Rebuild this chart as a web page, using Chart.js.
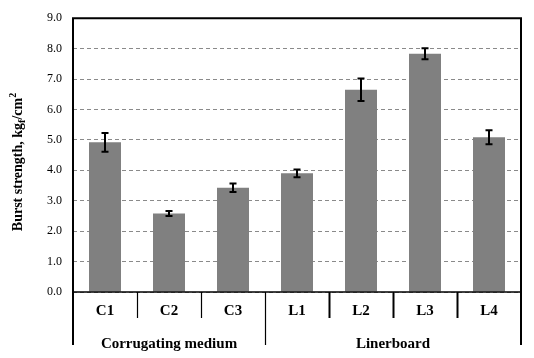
<!DOCTYPE html>
<html>
<head>
<meta charset="utf-8">
<script src="https://cdn.jsdelivr.net/npm/chart.js@4/dist/chart.umd.min.js"></script>
<style>
html,body{margin:0;padding:0;background:#fff;}
#wrap{width:534px;height:358px;position:relative;}
</style>
</head>
<body>
<div id="wrap"><canvas id="c" width="534" height="358"></canvas></div>
<script>
// ---- data ----
const categories = ['C1','C2','C3','L1','L2','L3','L4'];
const groupNames = ['Corrugating medium','Linerboard'];
const groupSizes = [3, 4];
const burstStrength = [4.92, 2.58, 3.43, 3.90, 6.65, 7.83, 5.09];
const burstError = [0.31, 0.08, 0.14, 0.13, 0.37, 0.18, 0.23];
const yMin = 0, yMax = 9, yStep = 1;
const yTitleParts = [
  {t:'Burst strength, kg', mode:'n'},
  {t:'f', mode:'sub'},
  {t:'/cm', mode:'n'},
  {t:'2', mode:'sup'}
];

const SERIF = '"Liberation Serif", "DejaVu Serif", serif';

const decorPlugin = {
  id: 'decor',
  afterDatasetsDraw(chart) {
    const ctx = chart.ctx;
    const meta = chart.getDatasetMeta(0);
    const y = chart.scales.y;
    ctx.save();
    ctx.strokeStyle = '#000';
    ctx.lineWidth = 2;
    meta.data.forEach((bar, i) => {
      const v = burstStrength[i], e = burstError[i];
      const yt = y.getPixelForValue(v + e), yb = y.getPixelForValue(v - e);
      const x = Math.round(bar.x);
      ctx.beginPath();
      ctx.moveTo(x, yt); ctx.lineTo(x, yb);
      ctx.moveTo(x - 3.5, yt); ctx.lineTo(x + 3.5, yt);
      ctx.moveTo(x - 3.5, yb); ctx.lineTo(x + 3.5, yb);
      ctx.stroke();
    });
    ctx.restore();
  },
  afterDraw(chart) {
    const ctx = chart.ctx;
    const a = chart.chartArea;
    const xs = chart.scales.x;
    const bottomY = 345;
    ctx.save();
    ctx.strokeStyle = '#000';
    // frame
    ctx.lineWidth = 2;
    ctx.beginPath();
    ctx.moveTo(a.left, bottomY); ctx.lineTo(a.left, a.top); ctx.lineTo(a.right, a.top); ctx.lineTo(a.right, bottomY);
    ctx.stroke();
    // x axis line
    ctx.lineWidth = 1.5;
    ctx.beginPath();
    ctx.moveTo(a.left, a.bottom); ctx.lineTo(a.right, a.bottom);
    ctx.stroke();
    // separators
    let idx = 0;
    const boundaries = new Set();
    let acc = 0;
    groupSizes.forEach(s => { acc += s; boundaries.add(acc); });
    for (let i = 1; i < categories.length; i++) {
      const xp = (xs.getPixelForValue(i - 1) + xs.getPixelForValue(i)) / 2;
      const isGroup = boundaries.has(i);
      ctx.lineWidth = (isGroup || i <= groupSizes[0]) ? 1.2 : 2;
      ctx.beginPath();
      ctx.moveTo(Math.round(xp) + 0.5, a.bottom);
      ctx.lineTo(Math.round(xp) + 0.5, isGroup ? bottomY : 318);
      ctx.stroke();
    }
    // group labels
    ctx.fillStyle = '#000';
    ctx.font = 'bold 15px ' + SERIF;
    ctx.textAlign = 'center';
    ctx.textBaseline = 'alphabetic';
    let start = 0;
    groupNames.forEach((g, k) => {
      const end = start + groupSizes[k] - 1;
      const x0 = xs.getPixelForValue(start) - xs.width / categories.length / 2;
      const x1 = xs.getPixelForValue(end) + xs.width / categories.length / 2;
      ctx.fillText(g, (x0 + x1) / 2, 348);
      start = end + 1;
    });
    // y title with sub/superscript
    const fs = 14, fsSmall = 10;
    const widths = yTitleParts.map(p => {
      ctx.font = 'bold ' + (p.mode === 'n' ? fs : fsSmall) + 'px ' + SERIF;
      return ctx.measureText(p.t).width;
    });
    const total = widths.reduce((s, w) => s + w, 0);
    ctx.translate(22, 162);
    ctx.rotate(-Math.PI / 2);
    ctx.textAlign = 'left';
    let cx = -total / 2;
    yTitleParts.forEach((p, i) => {
      ctx.font = 'bold ' + (p.mode === 'n' ? fs : fsSmall) + 'px ' + SERIF;
      const dy = p.mode === 'sub' ? 3 : (p.mode === 'sup' ? -6 : 0);
      ctx.fillText(p.t, cx, dy);
      cx += widths[i];
    });
    ctx.restore();
  }
};

new Chart(document.getElementById('c'), {
  type: 'bar',
  data: {
    labels: categories,
    datasets: [{
      data: burstStrength,
      backgroundColor: '#808080',
      borderWidth: 0,
      categoryPercentage: 1,
      barPercentage: 0.5
    }]
  },
  options: {
    responsive: false,
    animation: false,
    events: [],
    layout: { padding: { left: 0, right: 13, top: 14, bottom: 0 } },
    plugins: { legend: { display: false }, tooltip: { enabled: false }, title: { display: false } },
    scales: {
      x: {
        grid: { display: false, drawTicks: false },
        border: { display: false },
        ticks: { color: '#000', font: { family: SERIF, size: 15, weight: 'bold' }, padding: 10, maxRotation: 0 },
        afterFit(s) { s.height = 66; }
      },
      y: {
        min: yMin, max: yMax,
        grid: { color: '#8a8a8a', lineWidth: 1, drawTicks: false },
        border: { display: false, dash: [4, 3] },
        ticks: { stepSize: yStep, color: '#000', font: { family: SERIF, size: 12 }, padding: 11,
          callback: v => v.toFixed(1) },
        afterFit(s) { s.width = 73; }
      }
    }
  },
  plugins: [decorPlugin]
});
</script>
</body>
</html>
